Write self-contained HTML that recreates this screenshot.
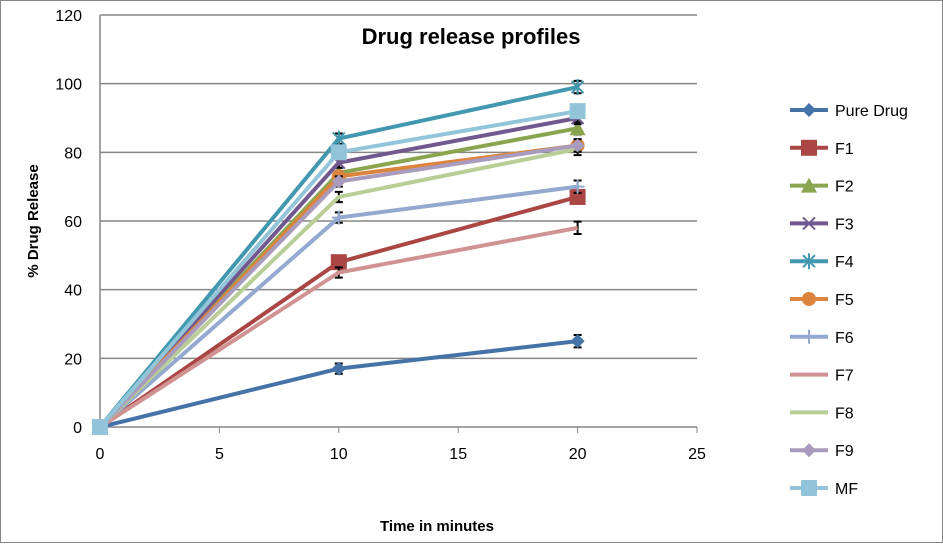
<!DOCTYPE html>
<html><head><meta charset="utf-8"><style>
body{margin:0;background:#fff;font-family:"Liberation Sans",sans-serif}
svg text{font-family:"Liberation Sans",sans-serif}
</style></head><body>
<svg id="c" width="943" height="543">
<rect x="0.5" y="0.5" width="942" height="542" fill="#fff" stroke="#868686"/>
<g id="grid"></g><g id="axes"></g><g id="series"></g><g id="legend"></g>
<text x="471" y="44" font-size="22" font-weight="bold" text-anchor="middle">Drug release profiles</text>
<text x="437" y="531" font-size="15" font-weight="bold" text-anchor="middle">Time in minutes</text>
<text transform="translate(38,221) rotate(-90)" font-size="15" font-weight="bold" text-anchor="middle">%  Drug Release</text>
</svg>
<script>
const times=[0,10,20];
const xTicks=[0,5,10,15,20,25];
const yTicks=[0,20,40,60,80,100,120];
const seriesNames=["Pure Drug","F1","F2","F3","F4","F5","F6","F7","F8","F9","MF"];
const pureDrug=[0,17,25];
const f1=[0,48,67];
const f2=[0,74,87];
const f3=[0,77,90];
const f4=[0,84,99];
const f5=[0,73,82];
const f6=[0,61,70];
const f7=[0,45,58];
const f8=[0,67,81];
const f9=[0,71.5,82];
const mf=[0,80,92];
const errs=[0,1.5,1.8];
const values=[pureDrug,f1,f2,f3,f4,f5,f6,f7,f8,f9,mf];
const colors=["#4572A7","#AA4643","#89A54E","#71588F","#4198AF","#DB843D","#93A9CF","#D19392","#B9CD96","#A99BBD","#92C5D9"];
const markers=["diamond","square","triangle","x","star","circle","plus","none","none","diamond","square"];
const NS="http://www.w3.org/2000/svg";
const X=v=>100+v*(697-100)/25, Y=v=>427-v*(427-15)/120;
function mk(t,a,p){const e=document.createElementNS(NS,t);for(const k in a)e.setAttribute(k,a[k]);p.appendChild(e);return e;}
const g=document.getElementById('grid'),ax=document.getElementById('axes'),s=document.getElementById('series'),lg=document.getElementById('legend');
yTicks.forEach(t=>{const l=mk('line',{x1:X(0),x2:X(25),y1:Y(t),y2:Y(t),stroke:'#868686','stroke-width':1.5},g);

const tx=mk('text',{x:82,y:Y(t)+6,'font-size':16,'text-anchor':'end'},ax);tx.textContent=t;
});
xTicks.forEach(t=>{const l=mk('line',{x1:X(t),x2:X(t),y1:427,y2:433,stroke:'#868686'},ax);

const tx=mk('text',{x:X(t),y:459,'font-size':16,'text-anchor':'middle'},ax);tx.textContent=t;
});
const ya=mk('line',{x1:X(0),x2:X(0),y1:Y(120),y2:427,stroke:'#868686','stroke-width':1.5},ax);

function marker(type,x,y,c,p){
 if(type==='diamond')return mk('polygon',{points:`${x},${y-7} ${x+7},${y} ${x},${y+7} ${x-7},${y}`,fill:c},p);
 if(type==='square')return mk('rect',{x:x-8,y:y-8,width:16,height:16,fill:c},p);
 if(type==='triangle')return mk('polygon',{points:`${x},${y-8} ${x+8},${y+7} ${x-8},${y+7}`,fill:c},p);
 if(type==='circle')return mk('circle',{cx:x,cy:y,r:7,fill:c},p);
 if(type==='x')return mk('path',{d:`M${x-6},${y-6}L${x+6},${y+6}M${x-6},${y+6}L${x+6},${y-6}`,stroke:c,'stroke-width':2},p);
 if(type==='star')return mk('path',{d:`M${x-6},${y-6}L${x+6},${y+6}M${x-6},${y+6}L${x+6},${y-6}M${x},${y-8}L${x},${y+8}`,stroke:c,'stroke-width':2},p);
 if(type==='plus')return mk('path',{d:`M${x-7},${y}L${x+7},${y}M${x},${y-7}L${x},${y+7}`,stroke:c,'stroke-width':2},p);
 return null;}
values.forEach((vals,i)=>{
 const gr=mk('g',{},s);
 times.forEach((t,j)=>{if(errs[j]>0){const e=mk('path',{d:`M${X(t)},${Y(vals[j]-errs[j])}V${Y(vals[j]+errs[j])}M${X(t)-4},${Y(vals[j]-errs[j])}h8M${X(t)-4},${Y(vals[j]+errs[j])}h8`,stroke:'#000','stroke-width':2},gr);
 }});
 const ln=mk('polyline',{points:times.map((t,j)=>X(t)+','+Y(vals[j])).join(' '),fill:'none',stroke:colors[i],'stroke-width':4},gr);
 
 times.forEach((t,j)=>{const m=marker(markers[i],X(t),Y(vals[j]),colors[i],gr);if(m){}});
 const ly=110+i*37.8;
 const le=mk('g',{},lg);
 mk('line',{x1:790,x2:828,y1:ly,y2:ly,stroke:colors[i],'stroke-width':4},le);
 marker(markers[i],809,ly,colors[i],le);
 const tx=mk('text',{x:835,y:ly+6,'font-size':16},le);tx.textContent=seriesNames[i];
});
</script>
</body></html>
